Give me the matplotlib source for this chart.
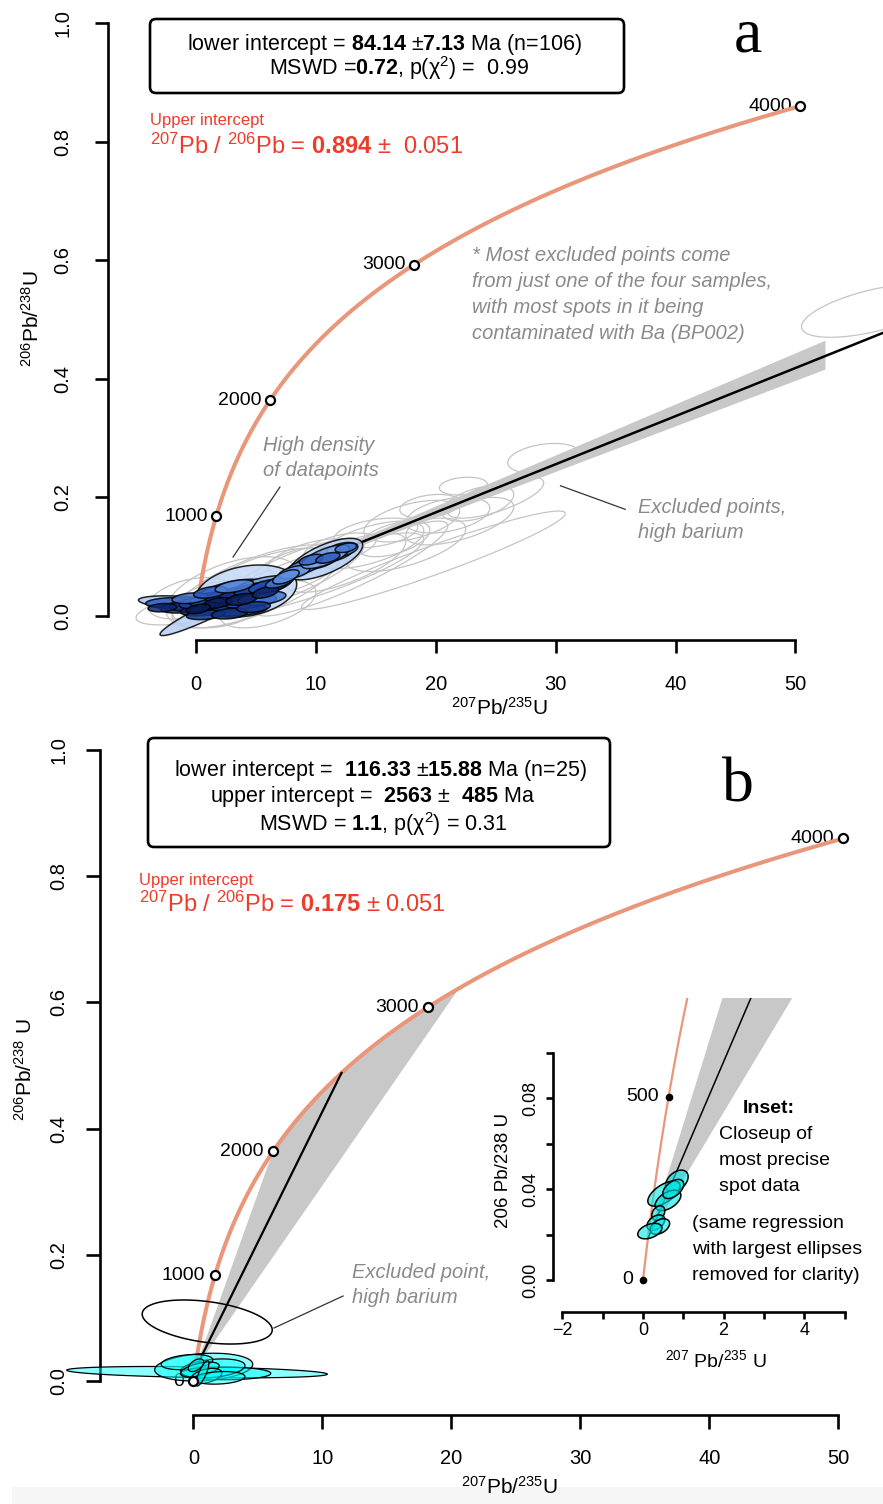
import numpy as np
import matplotlib
matplotlib.use("Agg")
import matplotlib.pyplot as plt
from matplotlib.colors import LinearSegmentedColormap
from matplotlib.patches import Polygon, FancyBboxPatch, Rectangle

plt.rcParams.update({
    "font.family": ["Liberation Sans", "DejaVu Sans"],
    "mathtext.fontset": "custom",
    "mathtext.rm": "Liberation Sans",
    "mathtext.it": "Liberation Sans:italic",
    "mathtext.bf": "Liberation Sans:bold",
    "mathtext.sf": "Liberation Sans",
    "mathtext.default": "regular",
    "axes.unicode_minus": True,
})

# ---------------- decay system ----------------
LAMBDA_235 = 9.8485e-4   # 1/Myr
LAMBDA_238 = 1.55125e-4  # 1/Myr
U238_U235 = 137.818

# ---------------- panel a data ----------------
a_marked_ages = [1000, 2000, 3000, 4000]
a_lower_age = 84.14
a_lower_err = 7.13
a_n = 106
a_mswd = 0.72
a_pval = 0.99
a_pb76 = 0.894
a_pb76_err = 0.051
a_band_end = 52.5

# accepted analyses: centre, half axes, error correlation, colour level
blue_x = [4.2, 1.5, -1.0, 10.8, 2.8, 5.5,
          -2.0, -1.0, 0.0, 0.5, 1.0, 1.5, 2.0, 2.5, 3.0, 3.5, 4.0, 4.5, 5.0, 5.5, 6.0,
          -0.5, 1.2, 3.2, 0.8, 2.8, 4.8, -2.8, 1.8, 3.8, 0.2, 5.8, 7.0,
          11.5, 10.0, 12.2, 9.0, 8.2, 10.8, 7.5, 9.6, 11.0, 12.5]
blue_sx = [4.2, 4.5, 3.8, 3.1, 3.0, 2.5,
           2.2, 2.0, 2.2, 1.8, 2.4, 2.0, 2.6, 2.0, 2.2, 2.4, 2.0, 2.2, 1.8, 2.0, 1.6,
           1.5, 1.4, 1.6, 1.6, 1.5, 1.4, 1.2, 1.2, 1.3, 1.0, 1.1, 1.2,
           1.6, 1.7, 1.3, 1.5, 1.3, 2.0, 1.1, 1.0, 1.0, 0.9]
blue_y = [0.042, 0.012, 0.022, 0.096, 0.040, 0.050,
          0.022, 0.015, 0.020, 0.010, 0.025, 0.012, 0.030, 0.018, 0.035, 0.010, 0.040, 0.025,
          0.045, 0.030, 0.050,
          0.030, 0.040, 0.050, 0.002, 0.004, 0.015, 0.014, 0.022, 0.028, 0.012, 0.040, 0.058,
          0.105, 0.092, 0.112, 0.083, 0.074, 0.100, 0.066, 0.095, 0.098, 0.115]
blue_sy = [0.044, 0.045, 0.012, 0.035, 0.022, 0.018,
           0.009, 0.010, 0.012, 0.010, 0.013, 0.011, 0.014, 0.012, 0.013, 0.010, 0.013, 0.012,
           0.012, 0.012, 0.012,
           0.009, 0.010, 0.011, 0.008, 0.009, 0.009, 0.007, 0.009, 0.010, 0.008, 0.010, 0.011,
           0.014, 0.014, 0.012, 0.014, 0.011, 0.020, 0.012, 0.009, 0.009, 0.008]
blue_rho = [0.26, 0.95, -0.4, 0.67, 0.6, 0.6,
            0.1, 0.3, 0.4, 0.3, 0.5, 0.4, 0.5, 0.4, 0.5, 0.3, 0.5, 0.4, 0.5, 0.4, 0.5,
            0.3, 0.4, 0.5, 0.3, 0.3, 0.3, 0.2, 0.4, 0.4, 0.4, 0.5, 0.6,
            0.5, 0.5, 0.4, 0.6, 0.5, 0.7, 0.6, 0.5, 0.5, 0.4]
blue_level = [0.1, 0.15, 0.2, 0.15, 0.3, 0.35,
              0.7, 0.85, 0.9, 0.95, 0.8, 0.9, 0.75, 0.95, 0.85, 0.8, 0.9, 0.7, 0.8, 0.6, 0.75,
              0.6, 0.7, 0.55, 0.85, 0.9, 0.85, 0.95, 1.0, 1.0, 1.0, 0.95, 0.6,
              0.5, 0.55, 0.45, 0.5, 0.45, 0.35, 0.5, 0.65, 0.7, 0.6]

# excluded (high barium) analyses
grey_x = [19.8, 22.3, 29.0, 56.5, 18.0, 21.0, 16.5, 23.5, 14.5, 19.5, 12.5, 3.0, 5.0, 2.0,
          8.0, 10.0, 6.0, 13.0, 9.5, 12.0, 15.0, 25.0, 22.0, 17.5, 6.5, -0.5, 0.0, 8.0]
grey_sx = [11.0, 2.0, 3.0, 6.0, 4.0, 3.5, 3.0, 3.0, 4.5, 2.5, 5.0, 5.5, 7.0, 4.0,
           6.0, 9.0, 4.0, 8.0, 3.5, 3.0, 3.5, 4.0, 4.5, 5.0, 5.5, 3.5, 5.0, 3.0]
grey_y = [0.094, 0.219, 0.266, 0.515, 0.160, 0.170, 0.130, 0.190, 0.120, 0.185, 0.090, 0.040,
          0.050, 0.020, 0.070, 0.070, 0.020, 0.080, 0.100, 0.115, 0.140, 0.200, 0.160, 0.120,
          0.070, 0.030, 0.015, 0.085]
grey_sy = [0.083, 0.015, 0.025, 0.045, 0.035, 0.030, 0.030, 0.030, 0.040, 0.020, 0.050, 0.060,
           0.070, 0.040, 0.060, 0.070, 0.040, 0.080, 0.030, 0.025, 0.025, 0.035, 0.040, 0.045,
           0.045, 0.035, 0.030, 0.030]
grey_rho = [0.95, 0.2, 0.3, 0.6, 0.5, 0.4, 0.5, 0.5, 0.6, 0.3, 0.7, 0.5, 0.7, 0.3,
            0.8, 0.85, 0.5, 0.9, 0.6, 0.5, 0.4, 0.7, 0.6, 0.6, 0.6, 0.4, 0.6, 0.6]

# ---------------- panel b data ----------------
b_marked_ages = [0, 1000, 2000, 3000, 4000]
b_lower_age = 116.33
b_lower_err = 15.88
b_upper_age = 2563
b_upper_err = 485
b_n = 25
b_mswd = 1.1
b_pval = 0.31
b_pb76 = 0.175
b_pb76_err = 0.051
b_band_ages = [2000, 3120]   # where the confidence envelope meets the concordia

cyan_x = [0.28, 0.8, 2.5, 1.5, -0.5, 0.5, 1.0, 2.0, 0.2, 0.7]
cyan_sx = [10.1, 3.8, 3.5, 2.5, 2.0, 1.5, 1.2, 2.0, 0.6, 0.5]
cyan_y = [0.014, 0.022, 0.012, 0.020, 0.030, 0.018, 0.008, 0.005, 0.025, 0.012]
cyan_sy = [0.009, 0.022, 0.010, 0.015, 0.012, 0.012, 0.012, 0.010, 0.010, 0.020]
cyan_rho = [-0.35, 0.2, 0.0, 0.3, 0.3, 0.5, 0.4, 0.2, 0.5, 0.8]

excl_b_x, excl_b_sx, excl_b_y, excl_b_sy, excl_b_rho = 1.07, 5.04, 0.0935, 0.0349, -0.36

# inset: most precise spots
inset_ages = [0, 500]
inset_x = [0.84, 0.52, 0.62, 0.38, 0.32, 0.42, 0.17, 0.75]
inset_sx = [0.28, 0.40, 0.32, 0.16, 0.22, 0.24, 0.30, 0.26]
inset_y = [0.0435, 0.0380, 0.0350, 0.0294, 0.0252, 0.0235, 0.0215, 0.0400]
inset_sy = [0.0048, 0.0055, 0.0045, 0.0032, 0.0034, 0.0034, 0.0034, 0.0042]
inset_rho = [0.4, 0.6, 0.5, 0.3, 0.4, 0.4, 0.4, 0.5]

# ---------------- styling ----------------
CONC = "#E9967A"
RED = "#EE3B2A"
GREY_TXT = "#8A8A8A"
BAND = "#C8C8C8"
GREY_EL = "#C4C4C4"
CYAN = (0.0, 1.0, 1.0, 0.45)
BLUES = LinearSegmentedColormap.from_list(
    "spot_blues", ["#dce8fa", "#9dbdf0", "#5b8fe2", "#1f4fb5", "#0a1d5a"])

W, H = 883, 1504
fig = plt.figure(figsize=(W / 100, H / 100), dpi=100)
fig.patches.append(Rectangle((12 / W, 0), (W - 12) / W, 17 / H, transform=fig.transFigure,
                             facecolor="#F6F6F6", edgecolor="none", zorder=-5))


def concordia(t):
    t = np.asarray(t, dtype=float)
    return np.expm1(LAMBDA_235 * t), np.expm1(LAMBDA_238 * t)


def ellipse_xy(x, sx, y, sy, rho, n=140):
    t = np.linspace(0, 2 * np.pi, n)
    ex = x + sx * np.cos(t)
    ey = y + sy * (rho * np.cos(t) + np.sqrt(1 - rho ** 2) * np.sin(t))
    return np.column_stack([ex, ey])


def place_axes(x0, kx, y0, ky, xlim, ylim):
    """Axes whose data origin sits at pixel (x0, y0) with kx, ky pixels per unit."""
    left = x0 + kx * xlim[0]
    right = x0 + kx * xlim[1]
    top = y0 - ky * ylim[1]
    bottom = y0 - ky * ylim[0]
    ax = fig.add_axes([left / W, 1 - bottom / H, (right - left) / W, (bottom - top) / H])
    ax.set_xlim(*xlim)
    ax.set_ylim(*ylim)
    return ax


def style_axes(ax, xticks, xlabels, yticks, ylabels, xspine, yspine, lw, tlen, xpad, ypad, fs):
    ax.patch.set_visible(False)
    ax.spines["top"].set_visible(False)
    ax.spines["right"].set_visible(False)
    ax.spines["left"].set_position(("data", yspine))
    ax.spines["bottom"].set_position(("data", xspine))
    ax.spines["left"].set_bounds(yticks[0], yticks[-1])
    ax.spines["bottom"].set_bounds(xticks[0], xticks[-1])
    for s in ("left", "bottom"):
        ax.spines[s].set_linewidth(lw)
        ax.spines[s].set_capstyle("projecting")
    ax.set_xticks(xticks)
    ax.set_xticklabels(xlabels, fontsize=fs)
    ax.set_yticks(yticks)
    ax.set_yticklabels(ylabels, fontsize=fs, rotation=90, va="center")
    ax.tick_params(axis="x", length=tlen, width=lw, pad=xpad, direction="out")
    ax.tick_params(axis="y", length=tlen, width=lw, pad=ypad, direction="out")


def ftext(px, py, s, **kw):
    return fig.text(px / W, 1 - py / H, s, **kw)


def fbox(x0, y0, x1, y1, lw=1.9):
    fig.patches.append(FancyBboxPatch((x0 / 100, (H - y1) / 100), (x1 - x0) / 100, (y1 - y0) / 100,
                                      boxstyle="round,pad=0,rounding_size=0.06",
                                      transform=fig.dpi_scale_trans, facecolor="white",
                                      edgecolor="black", linewidth=lw, zorder=3))


def draw_concordia(ax, ages, tmax, lw, offset, fs, marker_style):
    t = np.linspace(0, tmax, 400)
    cx, cy = concordia(t)
    ax.plot(cx, cy, color=CONC, lw=lw, zorder=3, solid_capstyle="butt")
    mx, my = concordia(ages)
    ax.plot(mx, my, linestyle="none", zorder=7, **marker_style)
    for age, x, y in zip(ages, mx, my):
        ax.annotate(str(age), (x, y), xytext=(-offset, 0), textcoords="offset points",
                    ha="right", va="center", fontsize=fs, zorder=2)


open_marker = dict(marker="o", ms=6.5, mfc="white", mec="black", mew=1.6)

# ======================= panel a =======================
axa = place_axes(196, 11.99, 616, 593, (-7.5, 57.3), (-0.05, 1.02))
style_axes(axa, [0, 10, 20, 30, 40, 50], ["0", "10", "20", "30", "40", "50"],
           [0, 0.2, 0.4, 0.6, 0.8, 1.0], ["0.0", "0.2", "0.4", "0.6", "0.8", "1.0"],
           xspine=-0.0405, yspine=-7.34, lw=1.9, tlen=9.4, xpad=16, ypad=16, fs=14.5)

for x, sx, y, sy, r in zip(grey_x, grey_sx, grey_y, grey_sy, grey_rho):
    axa.add_patch(Polygon(ellipse_xy(x, sx, y, sy, r), closed=True, facecolor="none",
                          edgecolor=GREY_EL, lw=0.9, zorder=1))

lix, liy = concordia(a_lower_age)
s_mid = 1 / (a_pb76 * U238_U235)
s_hi = 1 / ((a_pb76 - a_pb76_err) * U238_U235)
s_lo = 1 / ((a_pb76 + a_pb76_err) * U238_U235)
dx = a_band_end - lix
axa.add_patch(Polygon([(lix, liy), (a_band_end, liy + dx * s_hi), (a_band_end, liy + dx * s_lo)],
                      closed=True, facecolor=BAND, edgecolor="none", zorder=2))
draw_concordia(axa, a_marked_ages, 4000, 2.9, 6, 14, open_marker)
xend = 60.0
axa.plot([lix, xend], [liy, liy + (xend - lix) * s_mid], color="black", lw=1.8, zorder=4)

for x, sx, y, sy, r, lv in zip(blue_x, blue_sx, blue_y, blue_sy, blue_rho, blue_level):
    axa.add_patch(Polygon(ellipse_xy(x, sx, y, sy, r), closed=True,
                          facecolor=BLUES(lv), edgecolor="black", lw=1.1, alpha=0.85, zorder=5))

# pointer lines
axa.plot([3.09, 7.0], [0.0995, 0.2175], color="#333333", lw=0.9, zorder=6)
axa.plot([30.4, 35.8], [0.2196, 0.1799], color="#333333", lw=0.9, zorder=6)

fbox(150, 19, 624, 93)
ftext(384, 50, r"lower intercept = $\mathbf{%.2f}$ $\pm$$\mathbf{%.2f}$ Ma (n=%d)"
      % (a_lower_age, a_lower_err, a_n), ha="center", va="baseline", fontsize=15.5, zorder=4)
ftext(399, 75, r"MSWD =$\mathbf{%.2f}$, p($\chi^2$) =  %.2f" % (a_mswd, a_pval),
      ha="center", va="baseline", fontsize=15.5, zorder=4)
ftext(748, 52, "a", family="Liberation Serif", fontsize=46, ha="center", va="baseline")
ftext(150, 125, "Upper intercept", color=RED, fontsize=12, va="baseline")
ftext(150, 154, r"$^{207}$Pb / $^{206}$Pb = $\mathbf{%.3f}$ ±  %.3f" % (a_pb76, a_pb76_err),
      color=RED, fontsize=17, va="baseline")

note = ["* Most excluded points come", "from just one of the four samples,",
        "with most spots in it being", "contaminated with Ba (BP002)"]
for i, line in enumerate(note):
    ftext(472, 261 + 26 * i, line, color=GREY_TXT, style="italic", fontsize=14.5, va="baseline")
for i, line in enumerate(["High density", "of datapoints"]):
    ftext(263, 451 + 25 * i, line, color=GREY_TXT, style="italic", fontsize=14.5, va="baseline")
for i, line in enumerate(["Excluded points,", "high barium"]):
    ftext(638, 513 + 25 * i, line, color=GREY_TXT, style="italic", fontsize=14.5, va="baseline")

ftext(32, 318, r"$^{206}$Pb/$^{238}$U", rotation=90, ha="center", va="center", fontsize=15)
ftext(500, 708, r"$^{207}$Pb/$^{235}$U", ha="center", va="center", fontsize=15)

# ======================= panel b =======================
axb = place_axes(193.4, 12.9, 1381, 631, (-10.5, 53.45), (-0.06, 1.02))
style_axes(axb, [0, 10, 20, 30, 40, 50], ["0", "10", "20", "30", "40", "50"],
           [0, 0.2, 0.4, 0.6, 0.8, 1.0], ["0.0", "0.2", "0.4", "0.6", "0.8", "1.0"],
           xspine=-0.0539, yspine=-7.24, lw=1.9, tlen=9.8, xpad=14.4, ypad=13, fs=14.5)

lbx, lby = concordia(b_lower_age)
ubx, uby = concordia(b_upper_age)
band_t = np.linspace(b_band_ages[0], b_band_ages[1], 120)
bcx, bcy = concordia(band_t)
band_b = np.vstack([[lbx, lby], np.column_stack([bcx, bcy])])
axb.add_patch(Polygon(band_b, closed=True, facecolor=BAND, edgecolor="none", zorder=2))
draw_concordia(axb, b_marked_ages, 4000, 2.9, 7, 14, open_marker)
axb.plot([lbx, ubx], [lby, uby], color="black", lw=1.6, zorder=4)
axb.add_patch(Polygon(ellipse_xy(excl_b_x, excl_b_sx, excl_b_y, excl_b_sy, excl_b_rho),
                      closed=True, facecolor="none", edgecolor="black", lw=1.1, zorder=5))
for x, sx, y, sy, r in zip(cyan_x, cyan_sx, cyan_y, cyan_sy, cyan_rho):
    axb.add_patch(Polygon(ellipse_xy(x, sx, y, sy, r), closed=True, facecolor=CYAN,
                          edgecolor="black", lw=0.9, zorder=6))
axb.plot([6.25, 11.6], [0.084, 0.1347], color="#333333", lw=0.9, zorder=6)

fbox(148, 738, 610, 847)
ftext(380, 776, r"lower intercept =  $\mathbf{%.2f}$ $\pm$$\mathbf{%.2f}$ Ma (n=%d)"
      % (b_lower_age, b_lower_err, b_n), ha="center", va="baseline", fontsize=15.5, zorder=4)
ftext(373, 802, r"upper intercept =  $\mathbf{%d}$ $\pm$  $\mathbf{%d}$ Ma" % (b_upper_age, b_upper_err),
      ha="center", va="baseline", fontsize=15.5, zorder=4)
ftext(383, 831, r"MSWD = $\mathbf{%.1f}$, p($\chi^2$) = %.2f" % (b_mswd, b_pval),
      ha="center", va="baseline", fontsize=15.5, zorder=4)
ftext(738, 802, "b", family="Liberation Serif", fontsize=46, ha="center", va="baseline")
ftext(139, 885, "Upper intercept", color=RED, fontsize=12, va="baseline")
ftext(139, 912, r"$^{207}$Pb / $^{206}$Pb = $\mathbf{%.3f}$ ± %.3f" % (b_pb76, b_pb76_err),
      color=RED, fontsize=17, va="baseline")
for i, line in enumerate(["Excluded point,", "high barium"]):
    ftext(352, 1278 + 25 * i, line, color=GREY_TXT, style="italic", fontsize=14.5, va="baseline")

ftext(25, 1070, r"$^{206}$Pb/$^{238}$ U", rotation=90, ha="center", va="center", fontsize=15)
ftext(510, 1487, r"$^{207}$Pb/$^{235}$U", ha="center", va="center", fontsize=15)

# ---------------- inset ----------------
axi = place_axes(643, 40.3, 1280, 2275, (-2.5, 5.3), (-0.017, 0.124))
style_axes(axi, [-2, -1, 0, 1, 2, 3, 4, 5], ["\u22122", "", "0", "", "2", "", "4", ""],
           [0, 0.02, 0.04, 0.06, 0.08, 0.10], ["0.00", "", "0.04", "", "0.08", ""],
           xspine=-0.0141, yspine=-2.23, lw=1.9, tlen=5, xpad=2, ypad=5, fs=13)
axi.add_patch(Polygon(band_b, closed=True, facecolor=BAND, edgecolor="none", zorder=2))
ti = np.linspace(0, 900, 300)
icx, icy = concordia(ti)
axi.plot(icx, icy, color=CONC, lw=1.6, zorder=3)
imx, imy = concordia(inset_ages)
axi.plot(imx, imy, "o", color="black", ms=4.5, zorder=7)
for age, x, y in zip(inset_ages, imx, imy):
    axi.annotate(str(age), (x, y), xytext=(-7, 0), textcoords="offset points",
                 ha="right", va="center", fontsize=14)
axi.plot([lbx, ubx], [lby, uby], color="black", lw=1.1, zorder=4)
for x, sx, y, sy, r in zip(inset_x, inset_sx, inset_y, inset_sy, inset_rho):
    axi.add_patch(Polygon(ellipse_xy(x, sx, y, sy, r), closed=True, facecolor=(0.0, 0.9, 0.9, 0.6),
                          edgecolor="black", lw=1.1, zorder=6))

ftext(503, 1170, "206 Pb/238 U", rotation=90, ha="center", va="center", fontsize=13.5)
ftext(716, 1360, r"$^{207}$ Pb/$^{235}$ U", ha="center", va="center", fontsize=14)
ftext(743, 1113, "Inset:", fontweight="bold", fontsize=14, va="baseline")
for i, line in enumerate(["Closeup of", "most precise", "spot data"]):
    ftext(719, 1139 + 26 * i, line, fontsize=14, va="baseline")
for i, line in enumerate(["(same regression", "with largest ellipses", "removed for clarity)"]):
    ftext(692, 1228 + 26 * i, line, fontsize=14, va="baseline")

fig.savefig("out.png", dpi=100, facecolor="white")
